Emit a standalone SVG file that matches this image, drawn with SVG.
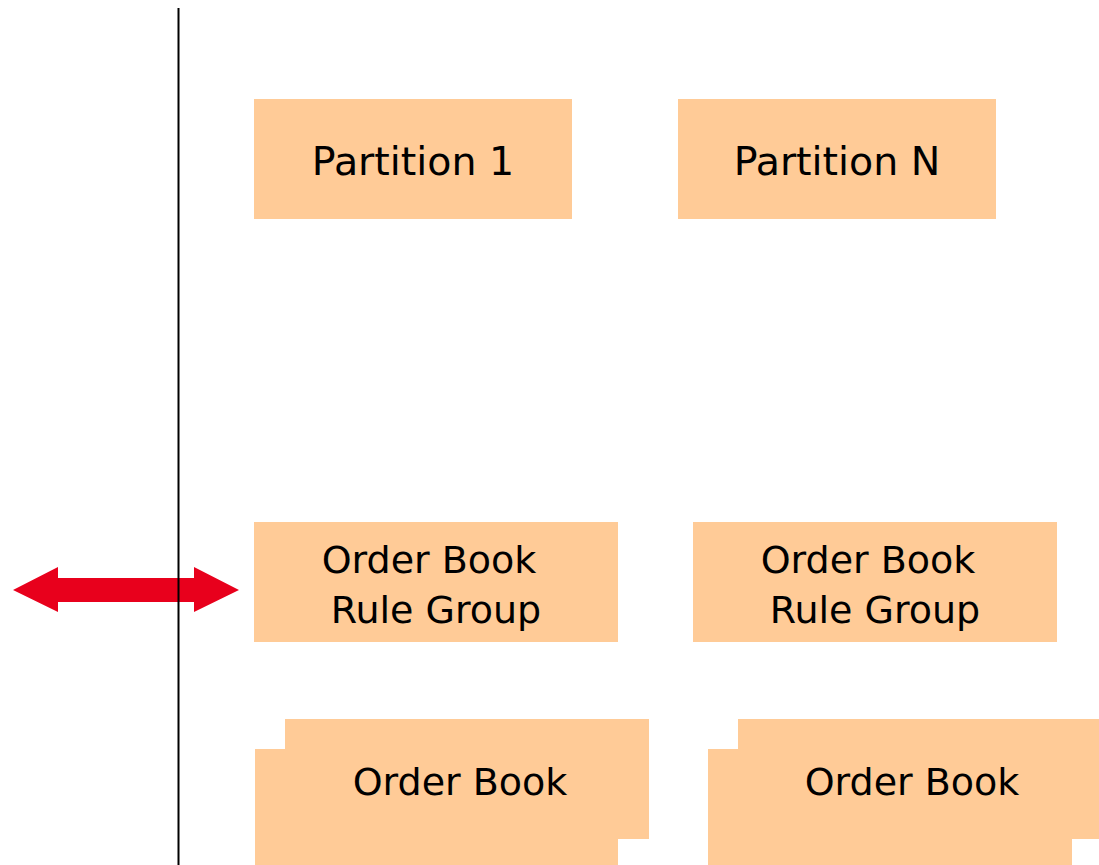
<svg xmlns="http://www.w3.org/2000/svg" width="1099" height="865" viewBox="0 0 1099 865">
<style>
.box{fill:#FFCB97;stroke:none}
.t{font-family:"DejaVu Sans",Verdana,sans-serif;font-size:38px;fill:#000;text-anchor:middle}
.p{font-size:39.5px}
</style>
<rect width="1099" height="865" fill="#fff"/>
<g id="partition1"><rect class="box" x="254" y="99" width="318" height="120"/><text class="t p" x="413" y="175">Partition 1</text></g>
<g id="partitionN"><rect class="box" x="678" y="99" width="318" height="120"/><text class="t p" x="837" y="175">Partition N</text></g>
<g id="rulegroup1"><rect class="box" x="254" y="522" width="364" height="120"/><text class="t" x="429" y="573">Order Book</text><text class="t" x="436" y="623">Rule Group</text></g>
<g id="rulegroup2"><rect class="box" x="693" y="522" width="364" height="120"/><text class="t" x="868" y="573">Order Book</text><text class="t" x="875" y="623">Rule Group</text></g>
<g id="orderbook1"><rect class="box" x="285" y="719" width="364" height="120"/><rect class="box" x="255" y="749" width="363" height="120"/><text class="t" x="460" y="795">Order Book</text></g>
<g id="orderbook2"><rect class="box" x="738" y="719" width="364" height="120"/><rect class="box" x="708" y="749" width="364" height="120"/><text class="t" x="912" y="795">Order Book</text></g>
<g id="connectors">
<polygon points="13,590 58,567 58,578 194,578 194,567 239,590 194,612 194,602 58,602 58,612" fill="#E8001C"/>
<line x1="178.5" y1="8" x2="178.5" y2="865" stroke="#000" stroke-width="2"/>
</g>
</svg>
